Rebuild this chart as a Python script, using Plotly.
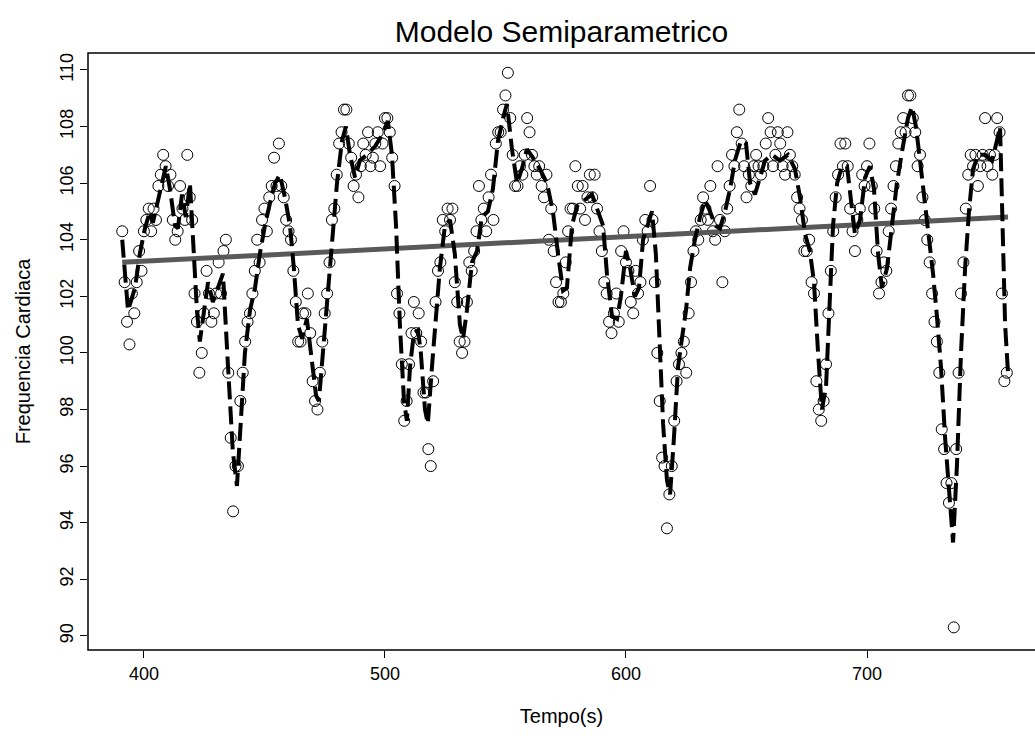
import plotly.graph_objects as go

# ---- data -------------------------------------------------------------
t_start = 391  # first observation time (s), one observation per second
freq = [
    104.3, 102.5, 101.1, 100.3, 102.1, 101.4, 102.5, 103.6, 102.9,           # 391-399
    104.3, 104.7, 105.1, 104.3, 105.1, 104.7, 105.9, 106.3, 107.0, 106.6,    # 400-409
    105.9, 106.3, 104.7, 104.0, 104.3, 105.9, 105.1, 104.7, 107.0, 105.5,    # 410-419
    104.7, 102.1, 101.1, 99.3, 100.0, 101.4, 102.9, 102.1, 101.1, 101.4,     # 420-429
    102.1, 103.2, 102.1, 103.6, 104.0, 99.3, 97.0, 94.4, 96.0, 96.0,         # 430-439
    98.3, 99.3, 100.4, 101.1, 101.4, 102.1, 102.9, 104.0, 103.2, 104.7,      # 440-449
    105.1, 104.3, 105.5, 105.9, 106.9, 105.9, 107.4, 105.9, 105.5, 104.7,    # 450-459
    104.3, 104.0, 102.9, 101.8, 100.4, 100.4, 101.4, 101.4, 102.1, 100.7,    # 460-469
    99.0, 98.3, 98.0, 99.3, 100.4, 101.4, 102.1, 103.2, 104.7, 105.1,        # 470-479
    106.3, 107.4, 107.8, 108.6, 108.6, 107.4, 106.9, 105.9, 106.3, 105.5,    # 480-489
    106.6, 107.4, 107.0, 107.8, 106.6, 106.9, 107.4, 107.8, 106.6, 107.4,    # 490-499
    108.3, 108.3, 107.8, 106.9, 105.9, 102.1, 101.4, 99.6, 97.6, 98.3,       # 500-509
    99.6, 100.7, 101.8, 100.7, 101.4, 100.4, 98.6, 98.6, 96.6, 96.0,         # 510-519
    99.0, 101.8, 102.9, 103.2, 104.7, 104.3, 105.1, 104.7, 105.1, 102.5,     # 520-529
    101.8, 100.4, 100.0, 100.4, 101.8, 103.2, 102.9, 103.6, 104.3, 105.9,    # 530-539
    104.7, 105.1, 104.3, 105.5, 106.3, 104.7, 107.4, 107.8, 107.8, 108.6,    # 540-549
    109.1, 109.9, 108.3, 107.0, 105.9, 105.9, 106.6, 106.3, 107.0, 108.3,    # 550-559
    107.8, 107.0, 106.6, 106.3, 106.6, 105.9, 105.5, 106.3, 104.0, 105.1,    # 560-569
    103.6, 102.5, 101.8, 101.8, 102.1, 103.2, 104.3, 105.1, 105.1, 106.6,    # 570-579
    105.9, 105.1, 105.9, 104.7, 105.5, 106.3, 105.5, 106.3, 105.1, 104.3,    # 580-589
    103.6, 102.5, 102.1, 101.1, 100.7, 101.4, 102.1, 101.1, 103.6, 104.3,    # 590-599
    103.2, 102.9, 101.8, 101.4, 102.9, 102.1, 102.5, 104.0, 104.7, 104.3,    # 600-609
    105.9, 104.7, 102.5, 100.0, 98.3, 96.3, 96.0, 93.8, 95.0, 96.0,          # 610-619
    97.6, 99.0, 99.6, 100.0, 100.4, 99.3, 101.4, 102.5, 103.6, 104.3,        # 620-629
    104.0, 104.7, 105.5, 105.1, 104.7, 105.9, 104.3, 104.0, 106.6, 104.7,    # 630-639
    102.5, 104.3, 105.1, 105.9, 107.0, 106.6, 107.8, 108.6, 107.4, 106.6,    # 640-649
    105.5, 106.3, 105.9, 106.6, 107.0, 106.6, 106.3, 106.6, 107.4, 108.3,    # 650-659
    107.8, 106.6, 107.0, 107.8, 107.4, 106.6, 106.3, 107.8, 107.0, 106.6,    # 660-669
    106.3, 105.5, 105.1, 104.7, 103.6, 103.6, 104.0, 102.5, 102.1, 99.0,     # 670-679
    98.0, 97.6, 98.3, 99.6, 101.4, 102.9, 104.3, 105.5, 106.3, 107.4,        # 680-689
    106.6, 107.4, 106.6, 105.1, 104.3, 103.6, 104.7, 105.1, 106.3, 105.9,    # 690-699
    106.6, 107.4, 105.9, 105.1, 103.6, 102.1, 102.5, 103.2, 102.9, 104.3,    # 700-709
    105.1, 105.9, 106.6, 107.4, 107.8, 108.3, 107.8, 109.1, 109.1, 108.3,    # 710-719
    107.8, 106.6, 107.0, 105.5, 104.7, 104.0, 103.2, 102.1, 101.1, 100.4,    # 720-729
    99.3, 97.3, 96.6, 95.4, 94.7, 95.4, 90.3, 96.6, 99.3, 102.1,             # 730-739
    103.2, 105.1, 106.3, 107.0, 106.6, 107.0, 105.9, 106.6, 107.0, 108.3,    # 740-749
    106.6, 107.0, 106.3, 107.0, 108.3, 107.8, 102.1, 99.0, 99.3,             # 750-758
]
tempo = [t_start + i for i in range(len(freq))]

# semiparametric fit (smooth part + trend)
fit_t = [391, 393.4, 396.3, 398.3, 400.4, 402.5, 403.7, 405.8, 407.5, 409.1,
         410.8, 412.9, 414.1, 415.8, 417.4, 419.1, 420.3, 422.0, 423.2, 424.9,
         426.6, 428.6, 432.8, 434.9, 436.9, 438.6, 440.2, 441.9, 444.0, 446.1,
         448.1, 450.2, 452.3, 454.4, 456.4, 458.5, 460.6, 462.2, 463.9, 465.6,
         467.6, 469.3, 471.4, 472.6, 474.3, 475.9, 478.0, 480.1, 482.2, 483.8,
         485.5, 487.6, 489.6, 492.5, 495.9, 498.8, 501.2, 502.9, 504.6, 506.2,
         507.9, 509.1, 510.4, 512.0, 513.7, 514.9, 516.6, 517.8, 519.5, 521.2,
         522.8, 524.9, 527.0, 529.0, 531.1, 532.4, 534.0, 536.1, 538.2, 540.2,
         542.7, 544.8, 546.9, 549.0, 550.6, 552.7, 554.8, 556.8, 558.9, 561.4,
         564.3, 567.2, 569.7, 571.8, 573.9, 575.5, 577.6, 579.7, 583.0, 585.9,
         588.4, 590.5, 592.1, 594.2, 596.3, 597.9, 600.0, 601.7, 603.7, 605.4,
         607.1, 609.1, 610.8, 612.4, 613.7, 615.4, 617.0, 618.3, 619.9, 621.6,
         623.2, 624.9, 626.6, 628.6, 630.7, 632.8, 634.9, 637.0, 639.0, 641.1,
         643.2, 645.2, 647.7, 649.8, 651.5, 653.5, 655.6, 657.7, 660.6, 663.9,
         667.2, 670.1, 672.2, 674.3, 676.3, 678.0, 679.7, 681.3, 683.0, 684.2,
         685.9, 687.6, 689.6, 691.7, 693.4, 695.0, 697.1, 699.2, 701.2, 702.9,
         704.6, 706.2, 708.3, 710.4, 712.4, 714.9, 717.0, 718.7, 720.3, 722.0,
         724.1, 725.7, 727.4, 729.0, 730.7, 732.4, 734.0, 735.7, 737.3, 739.0,
         740.7, 742.3, 744.0, 746.1, 749.0, 751.9, 753.9, 755.2, 756.4, 757.3,
         758.5]
fit_y = [104.0, 101.5, 102.3, 103.5, 104.4, 105.0, 104.6, 105.3, 106.0, 106.6,
         105.8, 104.5, 104.4, 105.6, 104.8, 106.0, 104.0, 101.5, 100.4, 101.5,
         102.5, 101.8, 102.8, 99.5, 96.5, 95.3, 97.5, 100.0, 101.5, 102.3,
         103.5, 104.5, 105.3, 106.0, 106.3, 105.5, 104.5, 103.0, 101.0, 100.5,
         101.2, 100.0, 98.5, 98.3, 100.0, 101.5, 104.0, 106.0, 107.5, 108.0,
         107.0, 106.2, 106.8, 107.0, 107.3, 107.7, 108.2, 107.0, 104.5, 101.0,
         98.3, 97.6, 99.5, 100.7, 100.8, 100.0, 98.0, 97.5, 99.5, 101.5,
         103.0, 104.5, 104.7, 103.5, 101.0, 100.5, 101.5, 103.2, 103.6, 104.8,
         105.0, 105.8, 107.5, 108.3, 108.8, 107.2, 106.0, 106.5, 107.2, 106.9,
         106.5, 106.0, 105.0, 103.5, 102.2, 102.3, 104.5, 105.2, 105.4, 105.6,
         105.0, 104.5, 102.8, 101.3, 101.2, 102.0, 103.6, 103.0, 102.0, 102.3,
         104.0, 104.6, 105.0, 103.5, 100.5, 97.5, 95.5, 95.0, 97.0, 99.5,
         100.5, 101.5, 103.0, 104.0, 104.8, 105.4, 105.0, 104.5, 104.4, 105.0,
         105.8, 106.8, 107.5, 107.4, 106.0, 105.6, 106.2, 106.8, 107.0, 106.8,
         107.0, 106.5, 105.5, 104.2, 103.6, 102.5, 100.0, 98.0, 98.8, 101.5,
         104.5, 106.0, 106.6, 106.6, 105.3, 104.2, 104.7, 106.2, 106.6, 105.8,
         103.5, 102.3, 103.0, 104.5, 106.0, 107.3, 108.3, 108.7, 108.0, 106.8,
         105.3, 104.0, 102.8, 101.3, 99.5, 97.0, 95.0, 93.3, 96.0, 100.0,
         103.0, 105.0, 106.5, 107.0, 107.0, 106.8, 107.5, 108.0, 104.0, 101.0,
         99.3]

# linear (parametric) trend
trend_t = [391, 758.5]
trend_y = [103.2, 104.8]

x_ticks = [400, 500, 600, 700]
y_ticks = [90, 92, 94, 96, 98, 100, 102, 104, 106, 108, 110]

assert len(fit_t) == len(fit_y)

FONT = "Liberation Sans, Arial, Helvetica, sans-serif"

fig = go.Figure()
fig.add_trace(go.Scatter(
    x=tempo, y=freq, mode="markers",
    marker=dict(symbol="circle-open", size=11, color="black",
                line=dict(width=1, color="black")),
    showlegend=False, hoverinfo="x+y"))
fig.add_trace(go.Scatter(
    x=trend_t, y=trend_y, mode="lines",
    line=dict(color="#595959", width=5), showlegend=False))
fig.add_trace(go.Scatter(
    x=fit_t, y=fit_y, mode="lines",
    line=dict(color="black", width=4, dash="18px,7px"), showlegend=False))

# plot frame: its right side lies just beyond the page edge (as in the original)
fig.add_shape(type="rect", xref="paper", yref="paper",
              x0=0, x1=1.02, y0=0, y1=1,
              line=dict(color="black", width=1.5), layer="above")

fig.update_layout(
    width=1035, height=738,
    margin=dict(l=88, r=0, t=53, b=88),
    paper_bgcolor="white", plot_bgcolor="white",
    font=dict(family=FONT, color="black", size=18),
    title=dict(text="Modelo Semiparametrico", x=0.5, xref="paper",
               xanchor="center", y=1 - 31 / 738, yanchor="middle",
               yref="container",
               font=dict(size=30, family=FONT, color="black")),
)
fig.update_xaxes(
    range=[376.8, 769.7], tickvals=x_ticks, ticks="outside", ticklen=7,
    tickcolor="black", showgrid=False, zeroline=False, showline=False,
    tickfont=dict(size=18),
    title=dict(text="Tempo(s)", font=dict(size=20), standoff=26),
)
fig.update_yaxes(
    range=[89.5, 110.6], tickvals=y_ticks, ticks="outside", ticklen=7,
    tickcolor="black", showgrid=False, zeroline=False, showline=False,
    tickangle=-90, tickfont=dict(size=18),
    title=dict(text="Frequencia Cardiaca", font=dict(size=20), standoff=20),
)

fig.write_html("out.html")
